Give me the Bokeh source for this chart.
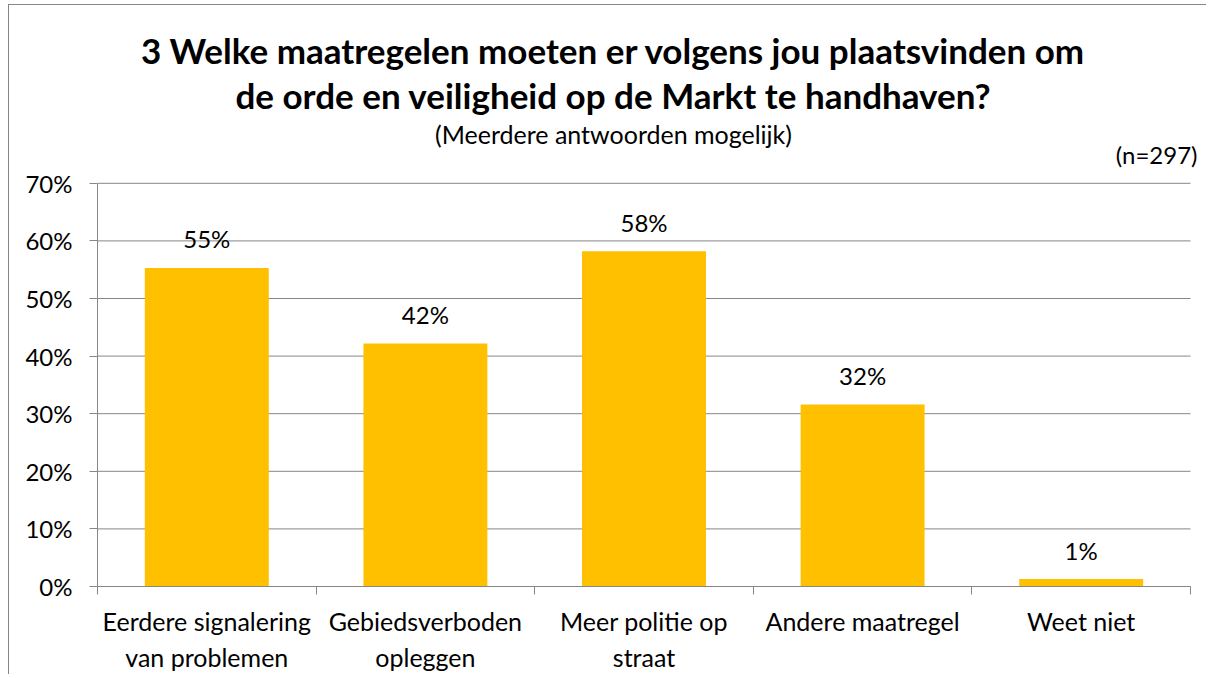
from bokeh.plotting import figure
from bokeh.models import Range1d, FixedTicker, Label
from bokeh.core.properties import value
from bokeh.embed import file_html
from bokeh.resources import INLINE

categories = ["Eerdere signalering\nvan problemen", "Gebiedsverboden\nopleggen",
              "Meer politie op\nstraat", "Andere maatregel", "Weet niet"]
values = [55.3, 42.2, 58.2, 31.6, 1.3]
value_labels = ["55%", "42%", "58%", "32%", "1%"]
y_ticks = [0, 10, 20, 30, 40, 50, 60, 70]
y_tick_labels = ["0%", "10%", "20%", "30%", "40%", "50%", "60%", "70%"]
title_lines = ["3 Welke maatregelen moeten er volgens jou plaatsvinden om",
               "de orde en veiligheid op de Markt te handhaven?"]
subtitle = "(Meerdere antwoorden mogelijk)"
n_text = "(n=297)"

FONT = "Lato"
GRAY = "#868686"
BAR = "#FFC000"

n_cat = len(categories)
# the frame reaches a little beyond the category axis (right) and up to the top of the
# chart, so the heading texts can live inside it; axis and grid stay bounded to the data
p = figure(width=1198, height=670, output_backend="svg", toolbar_location=None,
           x_range=Range1d(0, n_cat * 1103 / 1093), y_range=Range1d(0, 100),
           min_border_left=88, min_border_right=7, min_border_top=5, min_border_bottom=89)
p.styles = {"margin-left": "8px", "margin-top": "4px",
            "border-left": "1px solid #868686", "border-top": "1px solid #868686"}
p.outline_line_color = None
p.background_fill_color = "white"
p.border_fill_color = "white"

# horizontal grid lines, limited to the category span
p.segment(x0=[0] * len(y_ticks), x1=[n_cat] * len(y_ticks), y0=y_ticks, y1=y_ticks,
          line_color=GRAY, line_width=1)

centers = [i + 0.5 for i in range(n_cat)]
p.vbar(x=centers, top=values, width=0.567, bottom=0, fill_color=BAR, line_color=None)
p.text(x=centers, y=values, text=value_labels, text_align="center", text_baseline="middle",
       y_offset=-29, text_font=value(FONT), text_font_size="24px", text_color="black")

# x axis
p.xaxis.ticker = FixedTicker(ticks=centers, minor_ticks=list(range(n_cat + 1)))
p.xaxis.bounds = (0, n_cat)
p.xaxis.major_label_overrides = {c: lab for c, lab in zip(centers, categories)}
p.xaxis.major_tick_line_color = None
p.xaxis.minor_tick_line_color = GRAY
p.xaxis.minor_tick_in = 0
p.xaxis.minor_tick_out = 8
p.xaxis.axis_line_color = GRAY
p.xaxis.major_label_text_font = FONT
p.xaxis.major_label_text_font_size = "25px"
p.xaxis.major_label_text_color = "black"
p.xaxis.major_label_standoff = 11

# y axis
p.yaxis.ticker = FixedTicker(ticks=y_ticks)
p.yaxis.bounds = (y_ticks[0], y_ticks[-1])
p.yaxis.major_label_overrides = {t: lab for t, lab in zip(y_ticks, y_tick_labels)}
p.yaxis.major_tick_in = 0
p.yaxis.major_tick_out = 8
p.yaxis.major_tick_line_color = GRAY
p.yaxis.minor_tick_line_color = None
p.yaxis.axis_line_color = GRAY
p.yaxis.major_label_text_font = FONT
p.yaxis.major_label_text_font_size = "24px"
p.yaxis.major_label_text_color = "black"
p.yaxis.major_label_standoff = 17

p.xgrid.grid_line_color = None
p.ygrid.grid_line_color = None

# heading texts (screen units, relative to the plot frame)
p.add_layout(Label(x=516, y=537, x_units="screen", y_units="screen", text=title_lines[0],
                   text_align="center", text_baseline="middle", text_font=FONT,
                   text_font_style="bold", text_font_size="35px", text_color="black"))
p.add_layout(Label(x=516, y=492, x_units="screen", y_units="screen", text=title_lines[1],
                   text_align="center", text_baseline="middle", text_font=FONT,
                   text_font_style="bold", text_font_size="35px", text_color="black"))
p.add_layout(Label(x=516, y=453, x_units="screen", y_units="screen", text=subtitle,
                   text_align="center", text_baseline="middle", text_font=FONT,
                   text_font_size="25px", text_color="black"))
p.add_layout(Label(x=1100, y=432, x_units="screen", y_units="screen", text=n_text,
                   text_align="right", text_baseline="middle", text_font=FONT,
                   text_font_size="24px", text_color="black"))

open("out.html", "w").write(file_html(p, INLINE))
